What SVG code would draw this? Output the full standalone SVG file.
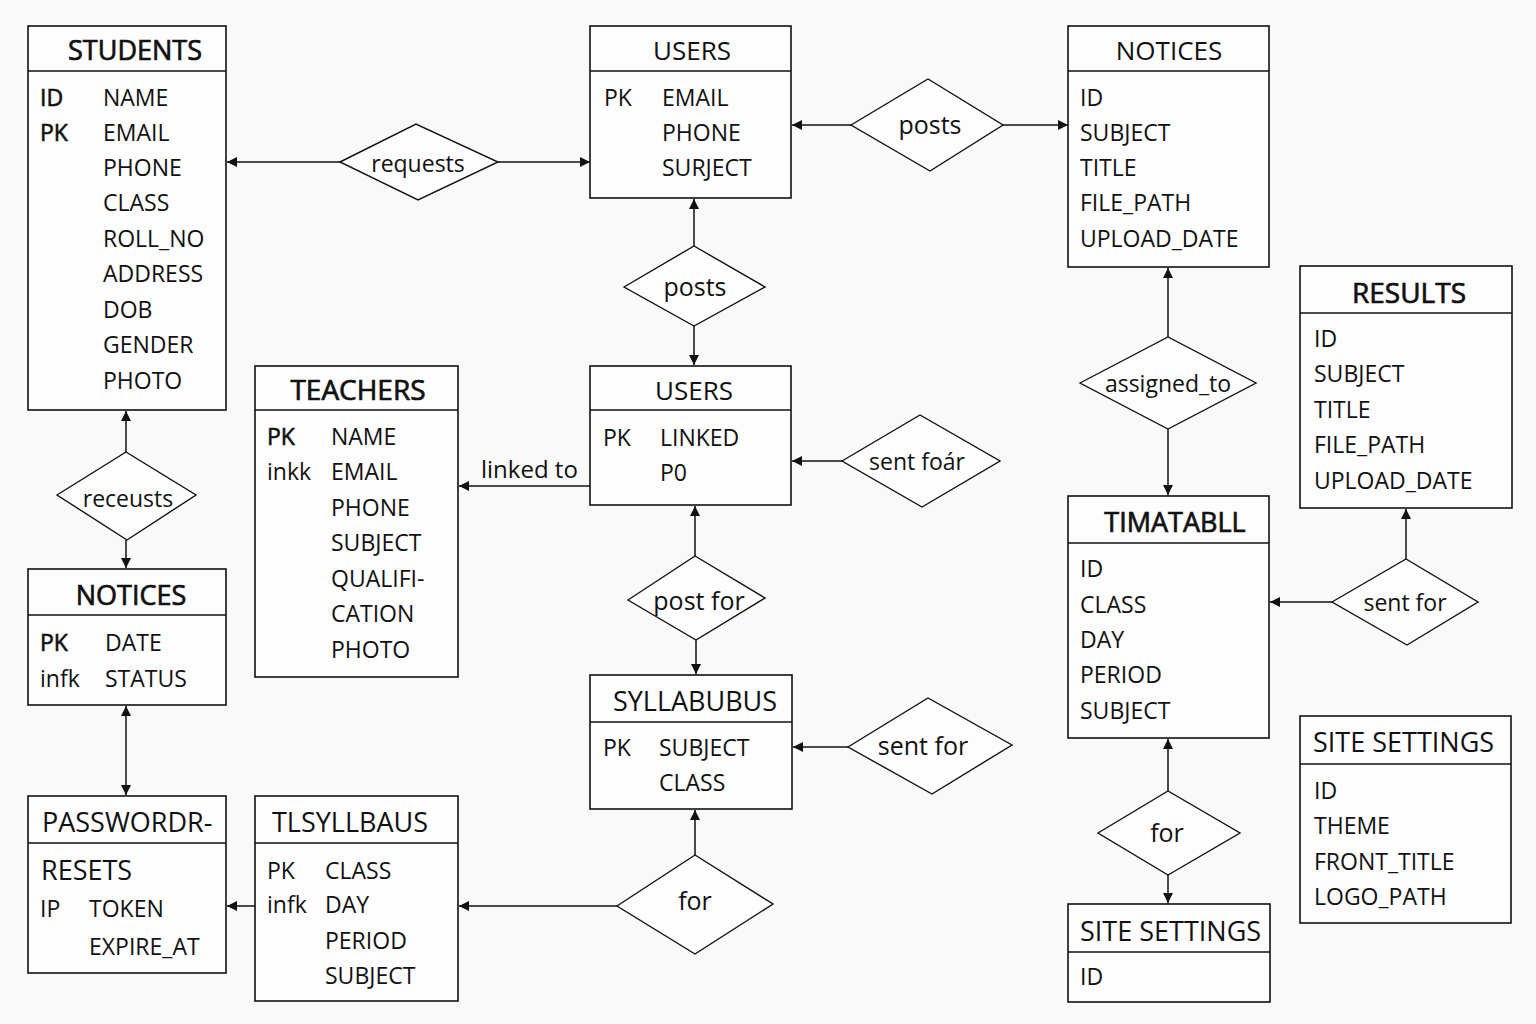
<svg xmlns="http://www.w3.org/2000/svg" width="1536" height="1024" viewBox="0 0 1536 1024">
<style>
.box{fill:#fdfdfd;stroke:#111;stroke-width:1.6}
.div{stroke:#111;stroke-width:1.4}
.dia{fill:#fdfdfd;stroke:#111;stroke-width:1.4}
.ln{stroke:#111;stroke-width:1.5;fill:none}
text{font-family:"Open Sans","Noto Sans","DejaVu Sans",sans-serif;fill:#111}
.t{font-size:27px;stroke:#111;stroke-width:0.7}
.tn{font-size:26px}
.tl{font-size:27px}
.tc{text-anchor:middle}
.a{font-size:23px}
.k{font-size:23px;stroke:#111;stroke-width:0.6}
.r{font-size:23px;text-anchor:middle}
.rb{font-size:25px;text-anchor:middle}
</style>
<defs>
<marker id="ar" viewBox="0 0 10 10" refX="10" refY="5" markerWidth="11" markerHeight="10" markerUnits="userSpaceOnUse" orient="auto-start-reverse">
<path d="M0,0 L10,5 L0,10 z" fill="#111"/>
</marker>
</defs>
<rect width="1536" height="1024" fill="#f9f9f9"/>

<g id="connectors">
<line class="ln" x1="340" y1="162" x2="227" y2="162" marker-end="url(#ar)"/>
<line class="ln" x1="498" y1="162" x2="590" y2="162" marker-end="url(#ar)"/>
<line class="ln" x1="851" y1="125" x2="792" y2="125" marker-end="url(#ar)"/>
<line class="ln" x1="1003" y1="125" x2="1068" y2="125" marker-end="url(#ar)"/>
<line class="ln" x1="694" y1="246" x2="694" y2="199" marker-end="url(#ar)"/>
<line class="ln" x1="694" y1="326" x2="694" y2="365" marker-end="url(#ar)"/>
<line class="ln" x1="590" y1="486" x2="459" y2="486" marker-end="url(#ar)"/>
<line class="ln" x1="842" y1="461" x2="792" y2="461" marker-end="url(#ar)"/>
<line class="ln" x1="695" y1="556" x2="695" y2="506" marker-end="url(#ar)"/>
<line class="ln" x1="696" y1="640" x2="696" y2="674" marker-end="url(#ar)"/>
<line class="ln" x1="848" y1="747" x2="793" y2="747" marker-end="url(#ar)"/>
<line class="ln" x1="695" y1="855" x2="695" y2="810" marker-end="url(#ar)"/>
<line class="ln" x1="617" y1="906" x2="459" y2="906" marker-end="url(#ar)"/>
<line class="ln" x1="255" y1="906" x2="227" y2="906" marker-end="url(#ar)"/>
<line class="ln" x1="126" y1="452" x2="126" y2="411" marker-end="url(#ar)"/>
<line class="ln" x1="126" y1="540" x2="126" y2="568" marker-end="url(#ar)"/>
<line class="ln" x1="126" y1="706" x2="126" y2="795" marker-start="url(#ar)" marker-end="url(#ar)"/>
<line class="ln" x1="1168" y1="337" x2="1168" y2="268" marker-end="url(#ar)"/>
<line class="ln" x1="1168" y1="429" x2="1168" y2="495" marker-end="url(#ar)"/>
<line class="ln" x1="1332" y1="602" x2="1270" y2="602" marker-end="url(#ar)"/>
<line class="ln" x1="1406" y1="559" x2="1406" y2="509" marker-end="url(#ar)"/>
<line class="ln" x1="1168" y1="791" x2="1168" y2="739" marker-end="url(#ar)"/>
<line class="ln" x1="1168" y1="875" x2="1168" y2="903" marker-end="url(#ar)"/>
<text class="a" x="481" y="478" style="font-size:24px">linked to</text>
</g>

<g id="rel-requests"><polygon class="dia" points="340,162 416,124 498,162 418,200"/><text class="r" x="418" y="172">requests</text></g>
<g id="rel-posts-top"><polygon class="dia" points="851,125 928,79 1003,125 930,171"/><text class="rb" x="930" y="134">posts</text></g>
<g id="rel-posts-mid"><polygon class="dia" points="624,287 694,246 765,287 694,326"/><text class="rb" x="695" y="296">posts</text></g>
<g id="rel-sent-foar"><polygon class="dia" points="842,461 920,415 1000,461 922,507"/><text class="r" x="917" y="470">sent foár</text></g>
<g id="rel-post-for"><polygon class="dia" points="628,600 695,556 765,598 696,640"/><text class="rb" x="699" y="610">post for</text></g>
<g id="rel-sent-for-mid"><polygon class="dia" points="848,747 928,698 1012,745 932,794"/><text class="rb" x="923" y="755">sent for</text></g>
<g id="rel-for-mid"><polygon class="dia" points="617,906 695,855 773,904 695,954"/><text class="rb" x="695" y="910">for</text></g>
<g id="rel-receusts"><polygon class="dia" points="57,495 126,452 196,495 127,540"/><text class="r" x="128" y="507">receusts</text></g>
<g id="rel-assigned"><polygon class="dia" points="1080,383 1168,337 1256,383 1168,429"/><text class="r" x="1168" y="392">assigned_to</text></g>
<g id="rel-sent-for-right"><polygon class="dia" points="1332,602 1406,559 1478,602 1407,645"/><text class="r" x="1405" y="611">sent for</text></g>
<g id="rel-for-right"><polygon class="dia" points="1098,833 1168,791 1240,833 1168,875"/><text class="rb" x="1167" y="842">for</text></g>

<g id="students">
<rect class="box" x="28" y="26" width="198" height="384"/>
<line class="div" x1="28" y1="71" x2="226" y2="71"/>
<text class="t tc" x="135" y="60">STUDENTS</text>
<text class="k" x="40" y="106">ID</text><text class="a" x="103" y="106">NAME</text>
<text class="k" x="40" y="141">PK</text><text class="a" x="103" y="141">EMAIL</text>
<text class="a" x="103" y="176">PHONE</text>
<text class="a" x="103" y="211">CLASS</text>
<text class="a" x="103" y="247">ROLL_NO</text>
<text class="a" x="103" y="282">ADDRESS</text>
<text class="a" x="103" y="318">DOB</text>
<text class="a" x="103" y="353">GENDER</text>
<text class="a" x="103" y="389">PHOTO</text>
</g>

<g id="users-top">
<rect class="box" x="590" y="26" width="201" height="172"/>
<line class="div" x1="590" y1="71" x2="791" y2="71"/>
<text class="tn tc" x="692" y="60">USERS</text>
<text class="a" x="604" y="106">PK</text><text class="a" x="662" y="106">EMAIL</text>
<text class="a" x="662" y="141">PHONE</text>
<text class="a" x="662" y="176">SURJECT</text>
</g>

<g id="notices-top">
<rect class="box" x="1068" y="26" width="201" height="241"/>
<line class="div" x1="1068" y1="71" x2="1269" y2="71"/>
<text class="tn tc" x="1169" y="60">NOTICES</text>
<text class="a" x="1080" y="106">ID</text>
<text class="a" x="1080" y="141">SUBJECT</text>
<text class="a" x="1080" y="176">TITLE</text>
<text class="a" x="1080" y="211">FILE_PATH</text>
<text class="a" x="1080" y="247">UPLOAD_DATE</text>
</g>

<g id="results">
<rect class="box" x="1300" y="266" width="212" height="242"/>
<line class="div" x1="1300" y1="313" x2="1512" y2="313"/>
<text class="t tc" x="1409" y="303" style="font-size:28px">RESULTS</text>
<text class="a" x="1314" y="347">ID</text>
<text class="a" x="1314" y="382">SUBJECT</text>
<text class="a" x="1314" y="418">TITLE</text>
<text class="a" x="1314" y="453">FILE_PATH</text>
<text class="a" x="1314" y="489">UPLOAD_DATE</text>
</g>

<g id="teachers">
<rect class="box" x="255" y="366" width="203" height="311"/>
<line class="div" x1="255" y1="410" x2="458" y2="410"/>
<text class="t tc" x="358" y="400" style="font-size:28px">TEACHERS</text>
<text class="k" x="267" y="445">PK</text><text class="a" x="331" y="445">NAME</text>
<text class="a" x="267" y="480">inkk</text><text class="a" x="331" y="480">EMAIL</text>
<text class="a" x="331" y="516">PHONE</text>
<text class="a" x="331" y="551">SUBJECT</text>
<text class="a" x="331" y="587">QUALIFI-</text>
<text class="a" x="331" y="622">CATION</text>
<text class="a" x="331" y="658">PHOTO</text>
</g>

<g id="users-mid">
<rect class="box" x="590" y="366" width="201" height="139"/>
<line class="div" x1="590" y1="410" x2="791" y2="410"/>
<text class="tn tc" x="694" y="400">USERS</text>
<text class="a" x="603" y="446">PK</text><text class="a" x="660" y="446">LINKED</text>
<text class="a" x="660" y="481">P0</text>
</g>

<g id="notices-left">
<rect class="box" x="28" y="569" width="198" height="136"/>
<line class="div" x1="28" y1="615" x2="226" y2="615"/>
<text class="t tc" x="131" y="605">NOTICES</text>
<text class="k" x="40" y="651">PK</text><text class="a" x="105" y="651">DATE</text>
<text class="a" x="40" y="687">infk</text><text class="a" x="105" y="687">STATUS</text>
</g>

<g id="password-resets">
<rect class="box" x="28" y="796" width="198" height="177"/>
<line class="div" x1="28" y1="843" x2="226" y2="843"/>
<text class="tl" x="42" y="832">PASSWORDR-</text>
<text class="tl" x="41" y="880">RESETS</text>
<text class="a" x="40" y="917">IP</text><text class="a" x="89" y="917">TOKEN</text>
<text class="a" x="89" y="955">EXPIRE_AT</text>
</g>

<g id="tlsyllbaus">
<rect class="box" x="255" y="796" width="203" height="205"/>
<line class="div" x1="255" y1="843" x2="458" y2="843"/>
<text class="tl" x="272" y="832">TLSYLLBAUS</text>
<text class="a" x="267" y="879">PK</text><text class="a" x="325" y="879">CLASS</text>
<text class="a" x="267" y="913">infk</text><text class="a" x="325" y="913">DAY</text>
<text class="a" x="325" y="949">PERIOD</text>
<text class="a" x="325" y="984">SUBJECT</text>
</g>

<g id="syllabubus">
<rect class="box" x="590" y="675" width="202" height="134"/>
<line class="div" x1="590" y1="722" x2="792" y2="722"/>
<text class="tl tc" x="695" y="711">SYLLABUBUS</text>
<text class="a" x="603" y="756">PK</text><text class="a" x="659" y="756">SUBJECT</text>
<text class="a" x="659" y="791">CLASS</text>
</g>

<g id="timatabll">
<rect class="box" x="1068" y="496" width="201" height="242"/>
<line class="div" x1="1068" y1="543" x2="1269" y2="543"/>
<text class="t tc" x="1175" y="532">TIMATABLL</text>
<text class="a" x="1080" y="577">ID</text>
<text class="a" x="1080" y="613">CLASS</text>
<text class="a" x="1080" y="648">DAY</text>
<text class="a" x="1080" y="683">PERIOD</text>
<text class="a" x="1080" y="719">SUBJECT</text>
</g>

<g id="site-settings-bottom">
<rect class="box" x="1068" y="904" width="202" height="98"/>
<line class="div" x1="1068" y1="952" x2="1270" y2="952"/>
<text class="tl" x="1080" y="941">SITE SETTINGS</text>
<text class="a" x="1080" y="985">ID</text>
</g>

<g id="site-settings-right">
<rect class="box" x="1300" y="716" width="211" height="207"/>
<line class="div" x1="1300" y1="764" x2="1511" y2="764"/>
<text class="tl" x="1313" y="752">SITE SETTINGS</text>
<text class="a" x="1314" y="799">ID</text>
<text class="a" x="1314" y="834">THEME</text>
<text class="a" x="1314" y="870">FRONT_TITLE</text>
<text class="a" x="1314" y="905">LOGO_PATH</text>
</g>
</svg>
